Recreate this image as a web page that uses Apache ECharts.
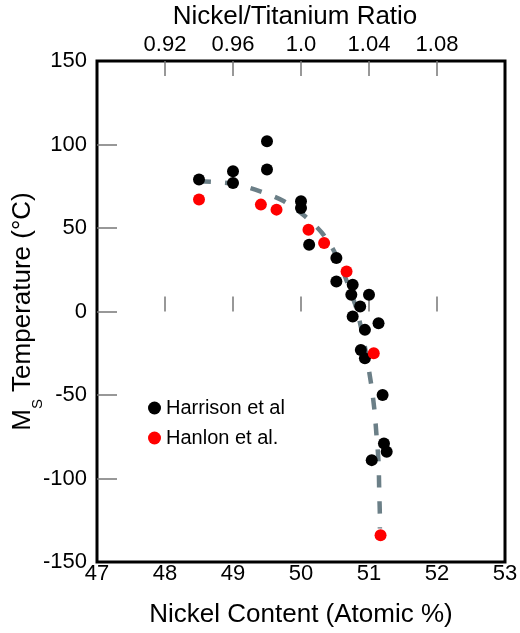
<!DOCTYPE html>
<html>
<head>
<meta charset="utf-8">
<script src="https://cdn.jsdelivr.net/npm/echarts@6/dist/echarts.min.js"></script>
<style>html,body{margin:0;padding:0;background:#fff;}#c{width:520px;height:633px;}</style>
</head>
<body>
<div id="c"></div>
<script>
// Harrison et al (black)
var harrisonX = [48.5, 49.0, 49.0, 49.5, 49.5, 50.0, 50.0, 50.12, 50.52, 50.52, 50.76, 50.74, 51.0, 50.87, 50.76, 51.14, 50.94, 50.88, 50.94, 51.2, 51.22, 51.26, 51.04];
var harrisonY = [79, 84, 77, 102, 85, 66, 62, 40, 32, 18, 16, 10, 10, 3, -3, -7, -11, -23, -28, -50, -79, -84, -89];
// Hanlon et al. (red)
var hanlonX = [48.5, 49.41, 49.64, 50.11, 50.34, 50.67, 51.07, 51.17];
var hanlonY = [67, 64, 61, 49, 41, 24, -25, -134];
// dashed trend curve
var curveX = [48.5, 49.0, 49.4, 49.75, 50.06, 50.31, 50.5, 50.79, 50.91, 51.03, 51.08, 51.11, 51.14, 51.15, 51.16, 51.16];
var curveY = [78, 76.5, 72, 66, 57, 47, 35, 5, -15, -43, -59, -74, -90, -107, -124, -130];
// tick positions
var xTicks = [48, 49, 50, 51, 52];
var yTicks = [-100, -50, 0, 50, 100];
// top axis (Ni/Ti ratio) labels at bottom-axis positions
var topTickLabels = ['0.92', '0.96', '1.0', '1.04', '1.08'];

function zip(a, b) { return a.map(function (v, i) { return [v, b[i]]; }); }

var FONT = 'Liberation Sans, Arial, Helvetica, sans-serif';
var tickStyle = { color: '#777', width: 1.5 };

var chart = echarts.init(document.getElementById('c'));
chart.setOption({
  animation: false,
  textStyle: { fontFamily: FONT, color: '#000' },
  grid: { left: 97, right: 15, top: 61, bottom: 71, containLabel: false, outerBoundsMode: 'none', show: true, borderColor: '#000', borderWidth: 3, backgroundColor: 'transparent' },
  legend: {
    orient: 'vertical', left: 148, top: 398, padding: 0, itemGap: 10,
    itemWidth: 13, itemHeight: 13, icon: 'circle',
    textStyle: { fontSize: 20, color: '#000', fontFamily: FONT },
    data: ['Harrison et al', 'Hanlon et al.']
  },
  xAxis: [{
    type: 'value', position: 'bottom', min: 47, max: 53, interval: 1,
    name: 'Nickel Content (Atomic %)', nameLocation: 'middle', nameGap: 40, nameMoveOverlap: false,
    nameTextStyle: { fontSize: 26, color: '#000', fontFamily: FONT },
    axisLine: { show: false },
    axisTick: { show: true, inside: true, length: 15, lineStyle: tickStyle, customValues: xTicks },
    axisLabel: { fontSize: 22, color: '#000', margin: 1, fontFamily: FONT },
    splitLine: { show: false }
  }, {
    type: 'value', position: 'top', min: 47, max: 53, interval: 1,
    name: 'Nickel/Titanium Ratio', nameLocation: 'middle', nameGap: 31, nameMoveOverlap: false,
    nameTextStyle: { fontSize: 26, color: '#000', fontFamily: FONT, padding: [0, 12, 0, 0] },
    axisLine: { show: false },
    axisTick: { show: true, inside: true, length: 15, lineStyle: tickStyle, customValues: xTicks },
    axisLabel: {
      fontSize: 22, color: '#000', margin: 5, fontFamily: FONT,
      customValues: xTicks,
      formatter: function (v) { var i = xTicks.indexOf(v); return i >= 0 ? topTickLabels[i] : ''; }
    },
    splitLine: { show: false }
  }],
  yAxis: {
    type: 'value', min: -150, max: 150, interval: 50,
    name: '{m|M}{s|S}{m| Temperature (°C)}', nameLocation: 'middle', nameGap: 52, nameRotate: 90, nameMoveOverlap: false,
    nameTextStyle: {
      fontFamily: FONT, color: '#000',
      rich: {
        m: { fontSize: 26, lineHeight: 44, fontFamily: FONT, color: '#000' },
        s: { fontSize: 15, lineHeight: 15, verticalAlign: 'bottom', fontFamily: FONT, color: '#000' }
      }
    },
    axisLine: { show: false },
    axisTick: { show: true, inside: true, length: 20, lineStyle: tickStyle, customValues: yTicks },
    axisLabel: { fontSize: 22, color: '#000', margin: 10, fontFamily: FONT },
    splitLine: { show: false }
  },
  series: [{
    type: 'line', name: 'curve', data: zip(curveX, curveY), smooth: 0.3, symbol: 'none', z: 1,
    lineStyle: { color: '#6b7f87', width: 4.5, type: [12, 14] }, silent: true
  }, {
    type: 'scatter', name: 'Harrison et al', data: zip(harrisonX, harrisonY), symbolSize: 12, z: 3,
    itemStyle: { color: '#000', opacity: 1 }
  }, {
    type: 'scatter', name: 'Hanlon et al.', data: zip(hanlonX, hanlonY), symbolSize: 12, z: 4,
    itemStyle: { color: '#ff0000', opacity: 1 }
  }]
});
</script>
</body>
</html>
